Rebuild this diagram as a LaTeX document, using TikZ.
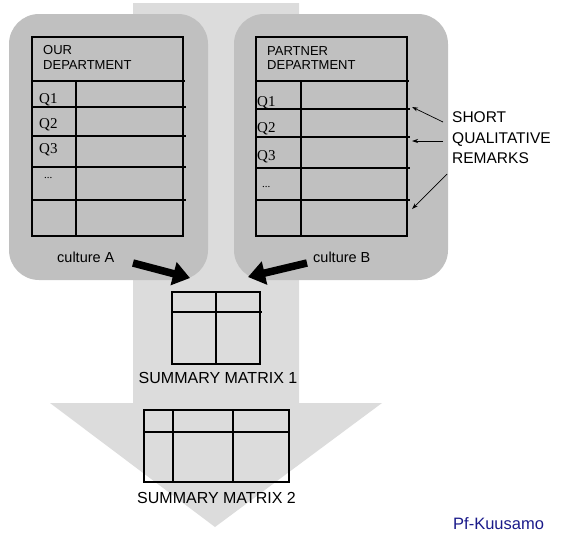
\documentclass[tikz,border=0pt]{standalone}
\usepackage{fontspec}
\setmainfont{Liberation Serif}
\setsansfont{Liberation Sans}
\usetikzlibrary{arrows.meta}
\definecolor{lightg}{HTML}{DCDCDC}
\definecolor{darkg}{HTML}{C0C0C0}
\definecolor{navy}{HTML}{1A1A8A}
\begin{document}
\begin{tikzpicture}[x=1pt,y=-1pt,
  sans/.style={font=\sffamily\fontsize{#1}{#1}\selectfont, inner sep=0pt, anchor=base west},
  qlab/.style={font=\rmfamily\fontsize{15}{15}\selectfont, inner sep=0pt, anchor=base west},
  grid/.style={line width=1.1pt, black},
  note/.style={line width=0.7pt, -{Stealth[length=6pt,width=4pt]}},
  bigarrow/.style={line width=7.5pt, -{Triangle[length=17pt,width=23pt]}}]
\useasboundingbox (0,0) rectangle (561,536);
% big light arrow
\fill[lightg] (133,3) -- (299,3) -- (299,403) -- (382,403) -- (215,527) -- (50,403) -- (133,403) -- cycle;
% culture boxes
\fill[darkg, rounded corners=30pt] (9,14) rectangle (208,280);
\fill[darkg, rounded corners=30pt] (234,14) rectangle (448,280);
% left table
\draw[grid] (32,37) rectangle (183,236);
\draw[grid] (32,81) -- (185,81);
\foreach \y in {107,136,167,200} \draw[grid] (32,\y) -- (186,\y);
\draw[grid] (76,81) -- (76,236);
\node[sans=13] (ourA) at (43,54) {OUR};
\node[sans=13] (ourB) at (43,69) {DEPARTMENT};
\node[qlab] (lq1) at (39,103) {Q1};
\node[qlab] (lq2) at (39,128) {Q2};
\node[qlab] (lq3) at (39,153) {Q3};
\node[qlab, font=\rmfamily\fontsize{11}{11}\selectfont] (lq4) at (44,178) {...};
\node[sans=14.5] (cultA) at (57,262) {culture A};
% right table
\draw[grid] (256,37) rectangle (407,236);
\draw[grid] (256,81) -- (409,81);
\foreach \y in {109,137,168,200} \draw[grid] (256,\y) -- (410,\y);
\draw[grid] (301,81) -- (301,236);
\node[sans=13] (partA) at (267,55) {PARTNER};
\node[sans=13] (partB) at (267,69) {DEPARTMENT};
\node[qlab] (rq1) at (257,106) {Q1};
\node[qlab] (rq2) at (257,132) {Q2};
\node[qlab] (rq3) at (257,160) {Q3};
\node[qlab, font=\rmfamily\fontsize{11}{11}\selectfont] (rq4) at (262,187) {...};
\node[sans=14.5] (cultB) at (313,262) {culture B};
% remarks
\node[sans=15.5] (rem1) at (452,122) {SHORT};
\node[sans=15.5] (rem2) at (452,143) {QUALITATIVE};
\node[sans=15.5] (rem3) at (452,163) {REMARKS};
\coordinate (n1s) at (443,122); \coordinate (n1e) at (412,107);
\coordinate (n2s) at (443,141); \coordinate (n2e) at (412,141);
\coordinate (n3s) at (447,174); \coordinate (n3e) at (412,209);
\draw[note] (n1s) -- (n1e);
\draw[note] (n2s) -- (n2e);
\draw[note] (n3s) -- (n3e);
% thick arrows
\coordinate (la) at (133,263); \coordinate (lb) at (190,278);
\coordinate (ra) at (307,263); \coordinate (rb) at (248,277);
\draw[bigarrow] (la) -- (lb);
\draw[bigarrow] (ra) -- (rb);
% summary matrix 1
\draw[grid] (172,292) rectangle (260,364);
\draw[grid] (172,312) -- (262,312);
\draw[grid] (216,292) -- (216,364);
\node[sans=16, anchor=base] (sm1) at (218,383) {SUMMARY MATRIX 1};
% summary matrix 2
\draw[grid] (144,410) rectangle (289,482);
\draw[grid] (144,432) -- (288,432);
\draw[grid] (173,410) -- (173,482);
\draw[grid] (233,410) -- (233,482);
\node[sans=16, anchor=base] (sm2) at (216.5,503) {SUMMARY MATRIX 2};
% footer
\node[sans=16.5, text=navy] (pf) at (453,529) {Pf-Kuusamo};
\end{tikzpicture}
\end{document}
